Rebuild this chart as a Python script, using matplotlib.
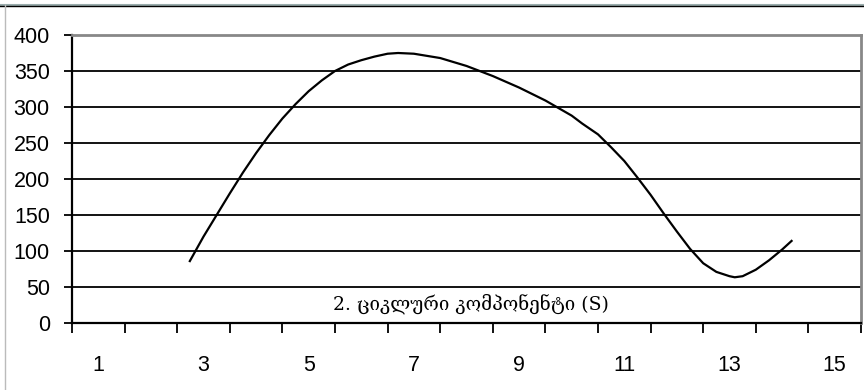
import matplotlib
matplotlib.use("Agg")
import matplotlib.pyplot as plt
from matplotlib.lines import Line2D

# kategoriebi (x) da ciklური komponentis mnishvnelobebi (y), suratidan amokitxuli
x_vals = [2.74, 3.0, 3.25, 3.5, 3.75, 4.0, 4.25, 4.5, 4.75, 5.0, 5.25, 5.5,
          5.75, 6.0, 6.25, 6.5, 6.7, 7.0, 7.5, 8.0, 8.5, 9.0, 9.5, 10.0, 10.2,
          10.5, 10.75, 11.0, 11.25, 11.5, 11.75, 12.0, 12.25, 12.5, 12.75,
          13.0, 13.1, 13.25, 13.5, 13.75, 14.0, 14.18]
y_vals = [86, 120, 150, 180, 209, 236, 261, 284, 304, 322, 337, 350,
          359, 365, 370, 374, 375, 374, 368, 357, 343, 327, 309, 288, 277,
          262, 244, 225, 202, 178, 152, 127, 103, 83, 71,
          65, 63.5, 65, 74, 87, 102, 114]

x_labels = [1, 3, 5, 7, 9, 11, 13, 15]
y_ticks = [0, 50, 100, 150, 200, 250, 300, 350, 400]
caption = "2. ციკლური კომპონენტი (S)"

fig = plt.figure(figsize=(8.64, 3.9), dpi=100)
ax = fig.add_axes([72 / 864, 1 - 323 / 390, 789 / 864, 288 / 390])

# horizontaluri badis xazebi
for v in y_ticks[1:-1]:
    ax.axhline(v, color="black", lw=1.3, zorder=1)

ax.plot(x_vals, y_vals, color="black", lw=1.6, zorder=3)

ax.set_xlim(0.5, 15.5)
ax.set_ylim(0, 400)
ax.set_yticks(y_ticks)
ax.set_yticklabels([str(v) for v in y_ticks], fontsize=15.5, family="Liberation Sans")

# dakhrilobebi kategoriebs shoris, etiketebi kent kategoriebze
ax.set_xticks([i + 0.5 for i in range(0, 16)])
ax.set_xticklabels([])
ax.set_xticks(x_labels, minor=True)
ax.set_xticklabels([str(v) for v in x_labels], minor=True, fontsize=15.5,
                   family="Liberation Sans")
ax.tick_params(axis="x", which="minor", length=0, pad=23)
ax.tick_params(axis="x", which="major", length=7, width=1.3, direction="out")
ax.tick_params(axis="y", length=6, width=1.3, direction="out", pad=10)

for side in ["left", "bottom"]:
    ax.spines[side].set_color("black")
    ax.spines[side].set_linewidth(1.6)
for side in ["top", "right"]:
    ax.spines[side].set_color("#888888")
    ax.spines[side].set_linewidth(2)

ax.text(8.08, 27, caption, ha="center", va="center", fontsize=13.5,
        family=["DejaVu Serif", "DejaVu Sans"], zorder=4)

# gare charcho
fig.add_artist(Line2D([0, 1], [1 - 4.5 / 390] * 2, color="#9aacac", lw=1.5))
fig.add_artist(Line2D([0, 1], [1 - 6 / 390] * 2, color="black", lw=1))
fig.add_artist(Line2D([5 / 864] * 2, [0, 1 - 5 / 390], color="#bbbbbb", lw=1))

fig.savefig("out.png", dpi=100)
